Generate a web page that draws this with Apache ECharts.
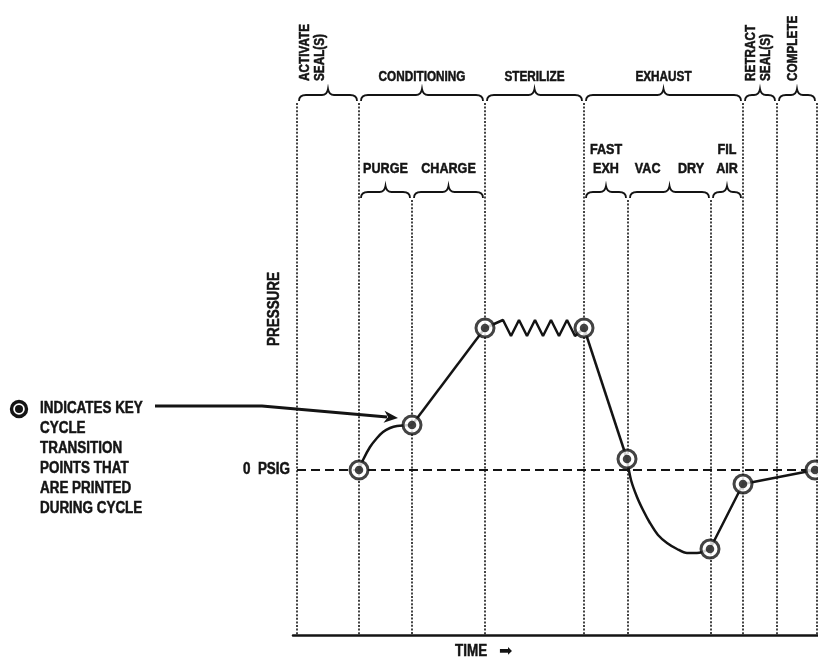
<!DOCTYPE html>
<html>
<head>
<meta charset="utf-8">
<script src="https://cdn.jsdelivr.net/npm/echarts@6/dist/echarts.min.js"></script>
<style>html,body{margin:0;padding:0;background:#fff}#c{width:818px;height:664px}</style>
</head>
<body>
<div id="c"></div>
<script>
// ---- data ----
const phaseNames = ['ACTIVATE\nSEAL(S)', 'CONDITIONING', 'STERILIZE', 'EXHAUST', 'RETRACT\nSEAL(S)', 'COMPLETE'];
const phaseStart = [4, 66, 192, 291, 450, 484];
const phaseEnd   = [66, 192, 291, 450, 484, 524];
const subNames = ['PURGE', 'CHARGE', 'FAST\nEXH', 'VAC     DRY', 'FIL\nAIR'];
const subStart = [66, 119, 291, 335, 418];
const subEnd   = [119, 192, 335, 418, 450];
const keyTime     = [66, 119, 192, 291, 334, 417, 450, 522];
const keyPressure = [0, 45, 142, 142, 11, -79, -14, 0];
const purgeTime     = [66, 70, 77, 84, 90, 97, 104, 119];
const purgePressure = [0, 10, 23, 32, 38, 42, 44, 45];
const sterilizeTime     = [192, 210, 218, 226, 234, 242, 250, 258, 266, 274, 282, 291];
const sterilizePressure = [142, 150, 134, 150, 134, 150, 134, 150, 134, 150, 134, 142];
const exhaustTime     = [334, 338, 344, 350, 357, 365, 374, 384, 394, 404, 417];
const exhaustPressure = [11, -10, -27, -40, -53, -65, -73, -79, -83, -83, -79];
const zeroPressure = 0;
const timeRange = [0, 525];
const pressureRange = [-165, 370];
const zeroLabel = '0  PSIG';
const axisXName = 'TIME';
const axisYName = 'PRESSURE';
const legendText = ['INDICATES KEY', 'CYCLE', 'TRANSITION', 'POINTS THAT', 'ARE PRINTED', 'DURING CYCLE'];

// ---- styling ----
const FONT = '"Liberation Sans", Arial, sans-serif';
const NARROW = 0.84;
const INK = '#141414';
const topBounds = new Set([...phaseStart, ...phaseEnd]);

const pts = (xs, ys) => xs.map((x, i) => [x, ys[i]]);
const key = i => [keyTime[i], keyPressure[i]];

function txt(x, y, text, size, extra) {
  const style = Object.assign({ text: text, fontSize: size, fontWeight: 'bold', fontFamily: FONT, fill: INK,
    stroke: INK, lineWidth: 0.5, align: 'left', verticalAlign: 'middle' }, (extra && extra.style) || {});
  const el = { type: 'text', x: x, y: y, scaleX: NARROW, style: style };
  if (extra && extra.rotation) el.rotation = extra.rotation;
  return el;
}
function bracePath(s, e, yb) {
  const sp = s + 2, ep = e - 2, m = (s + e) / 2;
  return `M${sp},${yb + 6} Q${sp},${yb} ${sp + 7},${yb} L${m - 6},${yb} Q${m - 1},${yb} ${m},${yb - 6} ` +
         `Q${m + 1},${yb} ${m + 6},${yb} L${ep - 7},${yb} Q${ep},${yb} ${ep},${yb + 6}`;
}
function dotted(x, y1, y2) {
  return { type: 'line', shape: { x1: x, y1: y1, x2: x, y2: y2 },
           style: { stroke: INK, lineWidth: 1.6, lineDash: [2, 1.6] } };
}
function renderPhase(level) {
  return function (params, api) {
    const t0 = api.value(0), t1 = api.value(1), i = api.value(2);
    const s = api.coord([t0, 0])[0], e = api.coord([t1, 0])[0];
    const cs = params.coordSys;
    const bottom = cs.y + cs.height;
    const yb = level === 0 ? cs.y - 5 : cs.y + 92;
    const m = (s + e) / 2, w = e - s;
    const kids = [];
    kids.push({ type: 'path', shape: { pathData: bracePath(s, e, yb) },
                style: { stroke: INK, lineWidth: 1.8, fill: null } });
    if (level === 0 || !topBounds.has(t0)) kids.push(dotted(s, yb + 8, bottom));
    if (level === 0 && i === phaseNames.length - 1) kids.push(dotted(e, yb + 8, bottom));
    const name = level === 0 ? phaseNames[i] : subNames[i];
    if (level === 0 && w < 70) {
      kids.push(txt(s + Math.min(w / 2, 16), yb - 14, name, 14,
        { rotation: Math.PI / 2, style: { align: 'left', lineHeight: 15 } }));
    } else if (level === 0) {
      kids.push(txt(m, yb - 18, name, 14, { style: { align: 'center' } }));
    } else {
      kids.push(txt(m, yb - 14, name, 15, { style: { align: 'center', verticalAlign: 'bottom', lineHeight: 19 } }));
    }
    return { type: 'group', children: kids };
  };
}
function renderZero(params, api) {
  const cs = params.coordSys;
  const y = api.coord([0, api.value(0)])[1];
  return { type: 'group', children: [
    { type: 'line', shape: { x1: cs.x + 4, y1: y, x2: cs.x + cs.width, y2: y },
      style: { stroke: INK, lineWidth: 2, lineDash: [9, 5] } },
    txt(cs.x - 3, y, zeroLabel, 16, { style: { align: 'right' } })
  ] };
}

const curveLine = (data, smooth) => ({
  type: 'line', data: data, smooth: smooth, symbol: 'none', silent: true, z: 3,
  lineStyle: { color: INK, width: 2.5 }, animation: false
});

const chart = echarts.init(document.getElementById('c'), null, { renderer: 'canvas' });
chart.setOption({
  animation: false,
  backgroundColor: '#fff',
  grid: { left: 293, right: 0, top: 100, bottom: 29 },
  xAxis: { type: 'value', min: timeRange[0], max: timeRange[1],
    axisLine: { show: true, onZero: false, lineStyle: { color: INK, width: 2.5 } },
    axisTick: { show: false }, axisLabel: { show: false }, splitLine: { show: false } },
  yAxis: { type: 'value', min: pressureRange[0], max: pressureRange[1],
    axisLine: { show: false }, axisTick: { show: false }, axisLabel: { show: false }, splitLine: { show: false } },
  series: [
    { type: 'custom', renderItem: renderPhase(0), clip: false, silent: true, z: 1,
      encode: { x: [0, 1], y: 2 }, data: phaseStart.map((s, i) => [s, phaseEnd[i], i]) },
    { type: 'custom', renderItem: renderPhase(1), clip: false, silent: true, z: 1,
      encode: { x: [0, 1], y: 2 }, data: subStart.map((s, i) => [s, subEnd[i], i]) },
    { type: 'custom', renderItem: renderZero, clip: false, silent: true, z: 2,
      encode: { y: 0 }, data: [[zeroPressure]] },
    curveLine(pts(purgeTime, purgePressure), 0.3),
    curveLine([key(1), key(2)], false),
    curveLine(pts(sterilizeTime, sterilizePressure), false),
    curveLine([key(3), key(4)], false),
    curveLine(pts(exhaustTime, exhaustPressure), 0.3),
    curveLine([key(5), key(6), key(7)], false),
    { type: 'scatter', data: pts(keyTime, keyPressure), symbol: 'circle', symbolSize: 18, z: 5, silent: true,
      itemStyle: { color: '#fff', borderColor: INK, borderWidth: 3 } },
    { type: 'scatter', data: pts(keyTime, keyPressure), symbol: 'circle', symbolSize: 8.5, z: 6, silent: true,
      itemStyle: { color: INK } }
  ]
});

// annotations: legend, axis names, arrow to a key point
const p2 = chart.convertToPixel({ seriesIndex: 9 }, key(1));
const tip = [p2[0] - 14, p2[1] - 7];
const bend = [262, 406];
const start = [155, 406];
const dx = tip[0] - bend[0], dy = tip[1] - bend[1], L = Math.hypot(dx, dy);
const ux = dx / L, uy = dy / L;
const headLen = 14, headW = 6;
const back = [tip[0] - ux * headLen, tip[1] - uy * headLen];
chart.setOption({
  graphic: [
    { type: 'circle', shape: { cx: 19, cy: 409, r: 7.5 }, style: { fill: '#fff', stroke: INK, lineWidth: 3.4 } },
    { type: 'circle', shape: { cx: 19, cy: 409, r: 4 }, style: { fill: INK } },
    txt(40, 399, legendText.join('\n'), 16, { style: { verticalAlign: 'top', lineHeight: 20 } }),
    txt(275, 309, axisYName, 16, { rotation: Math.PI / 2, style: { align: 'center' } }),
    txt(455, 652, axisXName, 16, {}),
    { type: 'text', x: 499, y: 652, style: { text: '➡', fontSize: 16, fontFamily: 'DejaVu Sans', fill: INK,
        align: 'left', verticalAlign: 'middle' } },
    { type: 'polyline', shape: { points: [start, bend, [back[0] + ux * 3, back[1] + uy * 3]] },
      style: { stroke: INK, lineWidth: 3, fill: null } },
    { type: 'polygon', shape: { points: [tip,
        [back[0] - uy * headW, back[1] + ux * headW],
        [back[0] + ux * 4, back[1] + uy * 4],
        [back[0] + uy * headW, back[1] - ux * headW]] },
      style: { fill: INK } }
  ]
});
</script>
</body>
</html>
